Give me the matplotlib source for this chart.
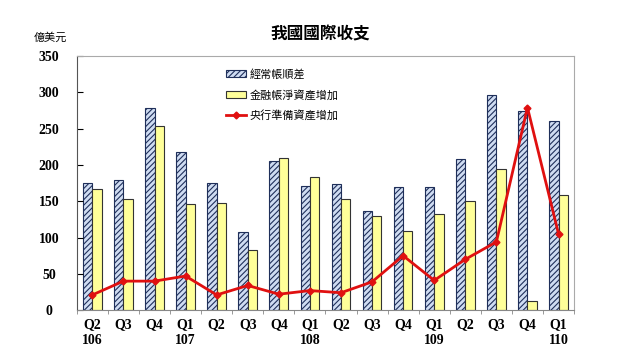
import numpy as np
import matplotlib.pyplot as plt

plt.rcParams['font.family'] = ['Noto Sans CJK TC', 'DejaVu Sans']
plt.rcParams['hatch.color'] = '#3a5a9a'
plt.rcParams['hatch.linewidth'] = 0.8

quarters = ['Q2\n106', 'Q3', 'Q4', 'Q1\n107', 'Q2', 'Q3', 'Q4', 'Q1\n108',
            'Q2', 'Q3', 'Q4', 'Q1\n109', 'Q2', 'Q3', 'Q4', 'Q1\n110']
current_account = [175, 179, 279, 218, 175, 108, 205, 171, 174, 136, 169, 169, 208, 296, 274, 260]
financial_account = [167, 153, 254, 146, 148, 83, 209, 184, 153, 129, 109, 132, 150, 194, 13, 159]
reserve_assets = [21, 40, 40, 47, 21, 34, 22, 27, 24, 39, 75, 41, 70, 94, 279, 105]

fig = plt.figure(figsize=(6.4, 3.59), dpi=100)
ax = fig.add_axes([0.12, 0.136, 0.777, 0.708])

x = np.arange(len(quarters))
w = 0.3
b1 = ax.bar(x - w / 2, current_account, w, color='#cfdcf2', edgecolor='#1f2f5a',
            linewidth=0.8, hatch='//////', label='經常帳順差')
b2 = ax.bar(x + w / 2, financial_account, w, color='#ffff99', edgecolor='#333333',
            linewidth=0.8, label='金融帳淨資產增加')
l1, = ax.plot(x, reserve_assets, color='#e01010', lw=2, marker='D', ms=3.5,
              label='央行準備資產增加')

ax.set_xlim(-0.5, len(quarters) - 0.5)
ax.set_ylim(0, 350)
ax.set_yticks(range(0, 351, 50))
ax.set_xticks(x)
ax.set_xticklabels(quarters, fontfamily='Liberation Serif', fontweight='bold', fontsize=10)
for lab in ax.get_yticklabels():
    lab.set_fontfamily('Liberation Serif')
    lab.set_fontweight('bold')
    lab.set_fontsize(10)
    lab.set_horizontalalignment('center')
ax.tick_params(axis='x', length=0, pad=6)
ax.tick_params(axis='y', length=4, direction='in', pad=20)
ax.set_xticks(np.arange(-0.5, len(quarters), 1), minor=True)
ax.tick_params(axis='x', which='minor', length=3, direction='out', color='#888888')

for s in ['top', 'right']:
    ax.spines[s].set_color('#aaaaaa')
    ax.spines[s].set_linewidth(0.8)
ax.spines['left'].set_color('#555555')
ax.spines['bottom'].set_color('#888888')

ax.legend([b1, b2, l1], ['經常帳順差', '金融帳淨資產增加', '央行準備資產增加'],
          loc='upper left', bbox_to_anchor=(0.28, 0.99), frameon=False,
          fontsize=8, handlelength=1.8, handleheight=0.7,
          labelspacing=0.9, handletextpad=0.3)

fig.text(0.5, 0.905, '我國國際收支', ha='center', va='center', fontsize=12, fontweight='bold')
fig.text(0.078, 0.895, '億美元', ha='center', va='center', fontsize=8)

fig.savefig('out.png', dpi=100)
